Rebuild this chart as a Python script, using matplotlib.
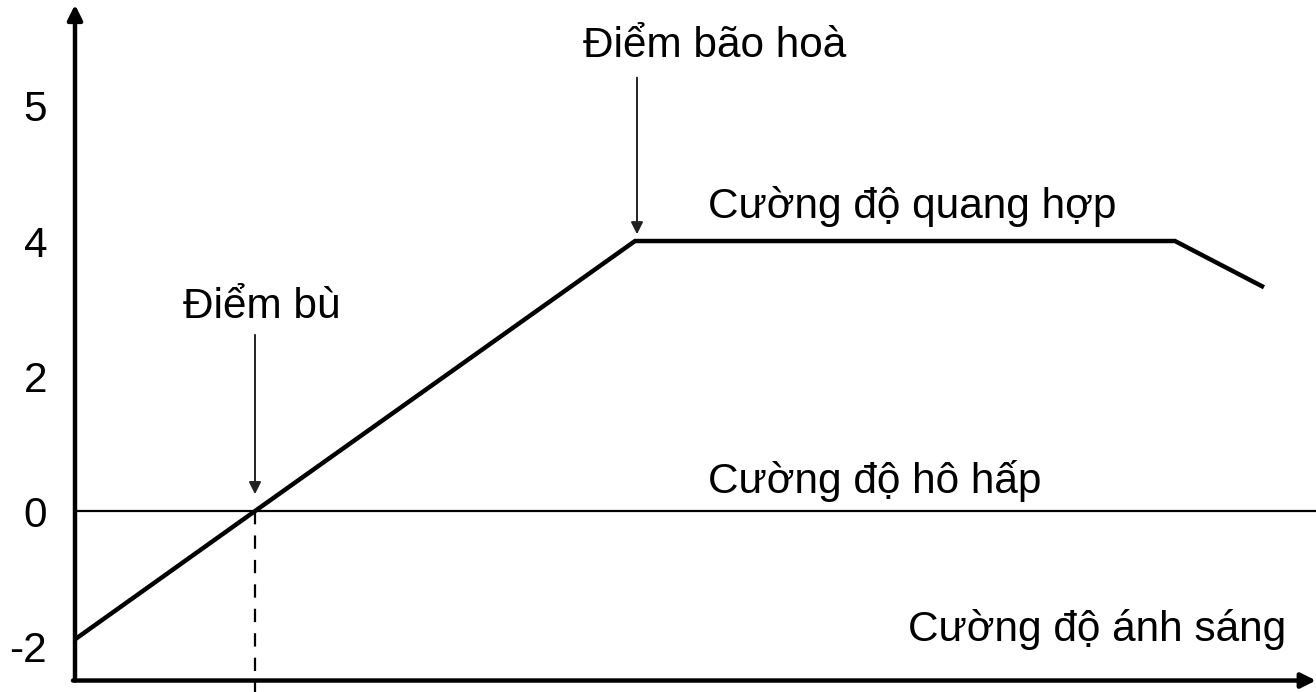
import numpy as np
import matplotlib
matplotlib.use("Agg")
import matplotlib.pyplot as plt

plt.rcParams["font.family"] = ["Liberation Sans", "DejaVu Sans"]

# photosynthesis curve (x: light intensity, arbitrary units; y: rate)
light = [0, 1.8, 5.6, 11.0, 11.87]
rate = [-1.9, 0, 4, 4, 3.33]
comp_x = 1.8      # compensation point
sat_x = 5.6       # saturation point
ytick_vals = [-2, 0, 2, 4, 5]
ytick_labels = ["-2", "0", "2", "4", "5"]

# the y axis is drawn with equal spacing between the tick labels
pos = np.arange(len(ytick_vals), dtype=float)
tv = np.array(ytick_vals, dtype=float)


def fwd(v):
    v = np.asarray(v, dtype=float)
    out = np.interp(v, tv, pos)
    lo = v < tv[0]; hi = v > tv[-1]
    out = np.where(lo, (v - tv[0]) / (tv[1] - tv[0]), out)
    out = np.where(hi, pos[-1] + (v - tv[-1]) / (tv[-1] - tv[-2]), out)
    return out


def inv(p):
    p = np.asarray(p, dtype=float)
    out = np.interp(p, pos, tv)
    out = np.where(p < 0, tv[0] + p * (tv[1] - tv[0]), out)
    out = np.where(p > pos[-1], tv[-1] + (p - pos[-1]) * (tv[-1] - tv[-2]), out)
    return out


fig = plt.figure(figsize=(13.16, 6.92), dpi=100)
ax = fig.add_axes([75 / 1316, 0, 1 - 75 / 1316, 1])
ax.set_yscale("function", functions=(fwd, inv))
ax.set_xlim(0, 12.41)
ax.set_ylim(-2.68, 5.785)
for sp in ax.spines.values():
    sp.set_visible(False)
ax.set_xticks([])
ax.set_yticks(ytick_vals)
ax.set_yticklabels(ytick_labels, fontsize=30.5)
ax.tick_params(axis="y", length=0, pad=20)

# axes drawn as arrows
ax.annotate("", xy=(0, 5.75), xytext=(0, -2.51),
            arrowprops=dict(arrowstyle="-|>", lw=3.2, color="black", mutation_scale=22, shrinkA=0, shrinkB=0))
ax.annotate("", xy=(12.41, -2.51), xytext=(-0.02, -2.51),
            arrowprops=dict(arrowstyle="-|>", lw=3.2, color="black", mutation_scale=22, shrinkA=0, shrinkB=0))

# respiration line
ax.axhline(0, color="black", lw=1.6)

# photosynthesis curve
ax.plot(light, rate, color="black", lw=3.2, solid_joinstyle="miter")

# dashed drop line at compensation point
ax.plot([comp_x, comp_x], [0, -2.7], color="black", lw=1.6, dashes=(6, 5), clip_on=False)

# pointer arrows
ax.annotate("", xy=(comp_x, 0.25), xytext=(comp_x, 2.61),
            arrowprops=dict(arrowstyle="-|>", lw=1.4, color="#222222", mutation_scale=18, shrinkA=0, shrinkB=0))
ax.annotate("", xy=(sat_x + 0.02, 4.05), xytext=(sat_x + 0.02, 5.21),
            arrowprops=dict(arrowstyle="-|>", lw=1.4, color="#222222", mutation_scale=18, shrinkA=0, shrinkB=0))

fs = 30.5
ax.text(1.08, 2.86, "Điểm bù", fontsize=fs, va="baseline", ha="left")
ax.text(5.08, 5.36, "Điểm bão hoà", fontsize=fs, va="baseline", ha="left")
ax.text(6.33, 4.17, "Cường độ quang hợp", fontsize=fs, va="baseline", ha="left")
ax.text(6.33, 0.27, "Cường độ hô hấp", fontsize=fs, va="baseline", ha="left")
ax.text(8.33, -1.93, "Cường độ ánh sáng", fontsize=fs, va="baseline", ha="left")

fig.savefig("out.png", dpi=100)
